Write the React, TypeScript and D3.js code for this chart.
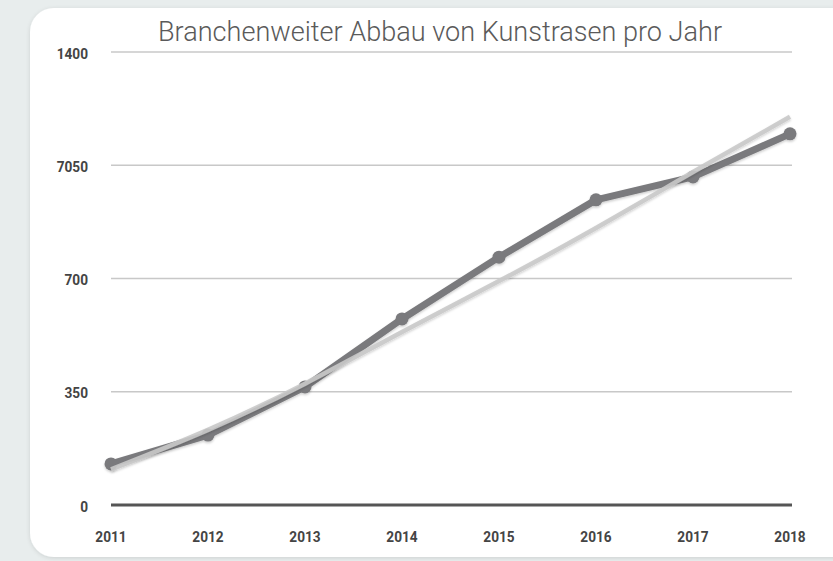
import React from "react";
import * as d3 from "d3";

const years = ["2011", "2012", "2013", "2014", "2015", "2016", "2017", "2018"];
const removed = [127, 216, 365, 575, 766, 943, 1014, 1147];
// trend curve
const trendValues = [110, 232, 375, 535, 692, 856, 1029, 1200];
const yTicks = [0, 350, 700, 1050, 1400];
const yTickLabels = ["0", "350", "700", "7050", "1400"];
const title = "Branchenweiter Abbau von Kunstrasen pro Jahr";

const W = 833;
const H = 561;

export default function App() {
  const x = d3.scalePoint<string>().domain(years).range([111, 790]);
  const y = d3.scaleLinear().domain([0, 1400]).range([505, 52]);

  const line = d3
    .line<number>()
    .x((d, i) => x(years[i]) as number)
    .y((d) => y(d));

  const trend = d3
    .line<number>()
    .curve(d3.curveNatural)
    .x((d, i) => x(years[i]) as number)
    .y((d) => y(d));

  return (
    <svg
      width={W}
      height={H}
      style={{ position: "absolute", left: 0, top: 0 }}
      fontFamily="Roboto, sans-serif"
    >
      <defs>
        <filter id="shadow" x="-10%" y="-10%" width="120%" height="120%">
          <feDropShadow dx="0" dy="1" stdDeviation="2" floodColor="#000" floodOpacity="0.12" />
        </filter>
        <filter id="lineShadow" x="-5%" y="-5%" width="110%" height="110%">
          <feDropShadow dx="0" dy="1.5" stdDeviation="1" floodColor="#000" floodOpacity="0.2" />
        </filter>
      </defs>
      <rect x={0} y={0} width={W} height={H} fill="#e8eded" />
      <rect x={30} y={8} width={W + 40} height={549} rx={24} fill="#ffffff" filter="url(#shadow)" />

      <text
        x={158}
        y={41}
        fontSize={28}
        fontWeight={300}
        fill="#5a5a5a"
        textLength={564}
        lengthAdjust="spacingAndGlyphs"
      >
        {title}
      </text>

      {yTicks.map((t, i) => (
        <g key={t}>
          <line
            x1={111}
            x2={792}
            y1={y(t)}
            y2={y(t)}
            stroke={t === 0 ? "#555555" : "#c8c8c8"}
            strokeWidth={t === 0 ? 3 : 1.5}
          />
          <text
            transform={`translate(88,${y(t) + 6.5}) scale(0.88,1)`}
            textAnchor="end"
            fontSize={15.5}
            fontWeight={700}
            fill="#444444"
          >
            {yTickLabels[i]}
          </text>
        </g>
      ))}

      {years.map((yr) => (
        <text
          key={yr}
          transform={`translate(${x(yr)},541.5) scale(0.88,1)`}
          textAnchor="middle"
          fontSize={15.5}
          fontWeight={700}
          fill="#444444"
        >
          {yr}
        </text>
      ))}

      <g filter="url(#lineShadow)">
        <path d={line(removed) ?? ""} fill="none" stroke="#7a7a7d" strokeWidth={7} strokeLinejoin="round" />
        {removed.map((v, i) => (
          <circle key={i} cx={x(years[i])} cy={y(v)} r={6.5} fill="#7a7a7d" />
        ))}
      </g>

      <path
        d={trend(trendValues) ?? ""}
        fill="none"
        stroke="#c9c9c9"
        strokeOpacity={0.9}
        strokeWidth={4.5}
        filter="url(#lineShadow)"
      />
    </svg>
  );
}
